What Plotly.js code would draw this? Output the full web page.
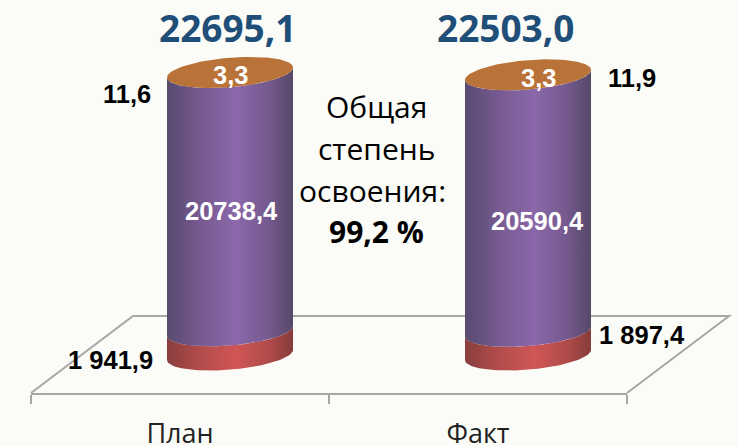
<!DOCTYPE html>
<html>
<head>
<meta charset="utf-8">
<script src="https://cdn.plot.ly/plotly-3.0.1.min.js"></script>
<style>html,body{margin:0;padding:0;background:#fbfcf8;overflow:hidden}</style>
</head>
<body>
<div id="chart" style="width:738px;height:446px"></div>
<script>
var categories = ["План", "Факт"];
var seriesRed = [1941.9, 1897.4];
var seriesPurple = [20738.4, 20590.4];
var seriesThin = [11.6, 11.9];
var seriesOrange = [3.3, 3.3];
var totals = [22695.1, 22503.0];
var noteLines = ["Общая", "степень", "освоения:"];
var noteValue = "99,2 %";

// geometry of the plot
var W = 738, H = 446, L = 31, R = 627, AXIS = 393, ZERO = 355;
var PXU = 0.01245;                 // pixels per value unit
var PXX = (R - L) / 2;             // pixels per category
var OFFSET = 50 / PXX;             // cylinders stand behind the axis
var HALF = 63 / PXX, RY = 14.7 / PXU, TILT = 5 / PXU;
var SANS = '"Liberation Sans", Arial, sans-serif', OPEN = '"Open Sans", sans-serif';

function px(x) { return (x - L) / (R - L); }
function py(y) { return 1 - y / AXIS; }
function comma(v) { return v.toFixed(1).replace('.', ','); }
function spaced(v) { return comma(v).replace(/^(\d+)(\d{3},)/, '$1 $2'); }

function edge(cx, v, t) {
  return [cx + HALF * Math.cos(t), v + TILT * Math.cos(t) + RY * Math.sin(t)];
}
var STEPS = 60;
function wall(cx, lo, hi, colors) {
  var xs = [], ys = [], i, t, p;
  for (i = 0; i <= STEPS; i++) {           // lower front arc, left to right
    t = Math.PI + Math.PI * i / STEPS;
    p = edge(cx, lo, t); xs.push(p[0]); ys.push(p[1]);
  }
  for (i = STEPS; i >= 0; i--) {           // upper front arc, right to left
    t = Math.PI + Math.PI * i / STEPS;
    p = edge(cx, hi, t); xs.push(p[0]); ys.push(p[1]);
  }
  xs.push(xs[0]); ys.push(ys[0]);
  return { x: xs, y: ys, type: 'scatter', mode: 'lines', line: { width: 0 }, fill: 'toself',
    fillgradient: { type: 'horizontal', colorscale: colors }, hoverinfo: 'skip', showlegend: false };
}
function cap(cx, v, color) {
  var xs = [], ys = [], i, p;
  for (i = 0; i <= 2 * STEPS; i++) {
    p = edge(cx, v, Math.PI * i / STEPS); xs.push(p[0]); ys.push(p[1]);
  }
  return { x: xs, y: ys, type: 'scatter', mode: 'lines', line: { width: 0 }, fill: 'toself',
    fillcolor: color, hoverinfo: 'skip', showlegend: false };
}
var redScale = [[0, '#8a3d3d'], [0.25, '#b04c4b'], [0.55, '#d05655'], [0.8, '#b04c4b'], [1, '#873b3b']];
var purpleScale = [[0, '#574a6e'], [0.25, '#75598f'], [0.55, '#8b68aa'], [0.8, '#75598f'], [1, '#564968']];

var traces = [];
categories.forEach(function (c, i) {
  var cx = i + 0.5 + OFFSET, a = seriesRed[i], b = a + seriesPurple[i];
  var top = b + seriesThin[i] + seriesOrange[i];
  traces.push(wall(cx, 0, a, redScale));
  traces.push(wall(cx, a, top, purpleScale));
  traces.push(cap(cx, top, '#b97238'));
});

function note(text, x, y, size, color, bold, family) {
  return { text: bold ? '<b>' + text + '</b>' : text, x: px(x), y: py(y), xref: 'paper', yref: 'paper',
    xanchor: 'center', yanchor: 'middle', showarrow: false,
    font: { size: size, color: color, family: family || SANS } };
}
var annotations = [
  note(comma(totals[0]), 228, 28, 37, '#1f4e79', true, OPEN),
  note(comma(totals[1]), 506, 28, 37, '#1f4e79', true, OPEN),
  note(comma(seriesThin[0]), 127, 94, 25.5, '#000', true),
  note(comma(seriesThin[1]), 632, 78, 25.5, '#000', true),
  note(comma(seriesOrange[0]), 230, 75, 25.5, '#fff', true),
  note(comma(seriesOrange[1]), 538, 78, 25.5, '#fff', true),
  note(comma(seriesPurple[0]), 231, 211, 25.5, '#fff', true),
  note(comma(seriesPurple[1]), 537, 221, 25.5, '#fff', true),
  note(spaced(seriesRed[0]), 110, 360, 25.5, '#000', true),
  note(spaced(seriesRed[1]), 642, 335, 25.5, '#000', true),
  note(noteLines[0], 376, 106, 30, '#000', false, OPEN),
  note(noteLines[1], 376, 148, 30, '#000', false, OPEN),
  note(noteLines[2], 372, 190, 30, '#000', false, OPEN),
  note(noteValue, 376, 232, 30, '#000', true, OPEN)
];

var layout = {
  width: W, height: H,
  margin: { l: L, r: W - R, t: 0, b: H - AXIS, pad: 0 },
  paper_bgcolor: '#fbfcf8', plot_bgcolor: 'rgba(0,0,0,0)',
  showlegend: false,
  xaxis: {
    range: [0, 2], fixedrange: true, showgrid: false, zeroline: false,
    showline: true, linecolor: '#a6a6a6', linewidth: 2,
    tickmode: 'array', tickvals: [0.5, 1.5], ticktext: categories, ticks: '',
    tickfont: { size: 27, color: '#222', family: OPEN }, ticklabelstandoff: 16,
    minor: { tickmode: 'array', tickvals: [0, 1, 2], ticks: 'outside', ticklen: 9, tickwidth: 2, tickcolor: '#a6a6a6', showgrid: false }
  },
  yaxis: {
    range: [(ZERO - AXIS) / PXU, ZERO / PXU], fixedrange: true, visible: false
  },
  shapes: [{
    type: 'path', xref: 'paper', yref: 'paper', layer: 'below',
    path: 'M' + px(L) + ',' + py(AXIS) + ' L' + px(133) + ',' + py(316) + ' L' + px(729) + ',' + py(316) + ' L' + px(R) + ',' + py(AXIS),
    line: { color: '#a6a6a6', width: 2 }
  }],
  annotations: annotations
};
Plotly.newPlot('chart', traces, layout, { displayModeBar: false, staticPlot: true });
</script>
</body>
</html>
